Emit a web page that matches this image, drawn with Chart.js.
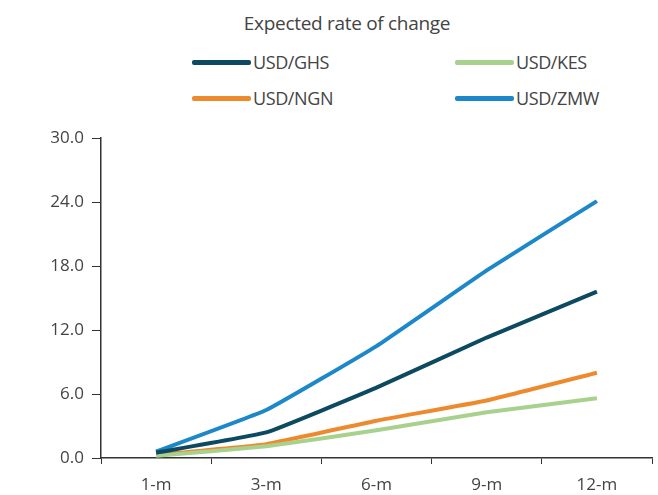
<!DOCTYPE html>
<html>
<head>
<meta charset="utf-8">
<script src="https://cdn.jsdelivr.net/npm/chart.js@4"></script>
<style>
  body { margin: 0; background: #fff; font-family: "Open Sans", sans-serif; }
  #wrap { position: relative; width: 658px; height: 495px; }
  #title { position: absolute; left: 147px; width: 400px; top: 10px; text-align: center; font-size: 19px; color: #444; letter-spacing: -0.3px; }
  #legend { position: absolute; left: 192px; top: 48px; display: grid; grid-template-columns: 263px 160px; row-gap: 8px; }
  .item { display: flex; align-items: center; font-size: 18px; color: #444; height: 28px; letter-spacing: -0.4px; }
  .swatch { width: 59px; height: 5px; margin-right: 2px; border-radius: 2px; }
  #box { position: absolute; left: 0; top: 120px; width: 658px; height: 375px; }
</style>
</head>
<body>
<div id="wrap">
  <div id="title">Expected rate of change</div>
  <div id="legend"></div>
  <div id="box"><canvas id="line-chart"></canvas></div>
</div>
<script>
var horizons = ["1-m", "3-m", "6-m", "9-m", "12-m"];
var ghs = [0.5, 2.4, 6.6, 11.3, 15.6];
var kes = [0.2, 1.1, 2.6, 4.3, 5.6];
var ngn = [0.3, 1.3, 3.5, 5.4, 8.0];
var zmw = [0.6, 4.5, 10.5, 17.6, 24.1];
var yTicks = [0, 6, 12, 18, 24, 30];

function serie(label, data, color) {
	return {
		label: label,
		data: data,
		borderColor: color,
		backgroundColor: color,
		borderWidth: 4,
		pointRadius: 0,
		tension: 0.1,
		fill: false
	};
}

var ctx = document.getElementById("line-chart").getContext("2d");
var myChart = new Chart(ctx, {
	type: 'line',
	data: {
		labels: horizons,
		datasets: [
			serie('USD/GHS', ghs, '#0d4a62'),
			serie('USD/KES', kes, '#a9d18e'),
			serie('USD/NGN', ngn, '#ee8a2e'),
			serie('USD/ZMW', zmw, '#1c87c9')
		]
	},
	options: {
		responsive: true,
		maintainAspectRatio: false,
		animation: false,
		layout: { padding: { top: 15, right: 6, left: 0, bottom: 0 } },
		plugins: { legend: { display: false }, tooltip: { enabled: false } },
		scales: {
			x: {
				offset: true,
				grid: { drawOnChartArea: false, drawTicks: true, tickLength: 6, color: '#333', offset: true },
				border: { display: true, color: '#333', width: 1.5 },
				ticks: { color: '#444', font: { family: 'Open Sans', size: 17 }, padding: 11 },
				afterFit: function(s) { s.height = 37; }
			},
			y: {
				min: 0,
				max: 30,
				afterBuildTicks: function(s) { s.ticks = yTicks.map(function(v) { return { value: v }; }); },
				grid: { drawOnChartArea: false, drawTicks: true, tickLength: 9, color: '#333' },
				border: { display: true, color: '#333', width: 1.5 },
				ticks: {
					color: '#444',
					font: { family: 'Open Sans', size: 17 },
					padding: 8,
					callback: function(v) { return Number(v).toFixed(1); }
				},
				afterFit: function(s) { s.width = 101; }
			}
		}
	}
});

// legend in two columns: GHS / KES, NGN / ZMW
var legend = document.getElementById("legend");
myChart.data.datasets.forEach(function(ds) {
	var item = document.createElement("div");
	item.className = "item";
	var sw = document.createElement("span");
	sw.className = "swatch";
	sw.style.background = ds.borderColor;
	item.appendChild(sw);
	item.appendChild(document.createTextNode(ds.label));
	legend.appendChild(item);
});
</script>
</body>
</html>
